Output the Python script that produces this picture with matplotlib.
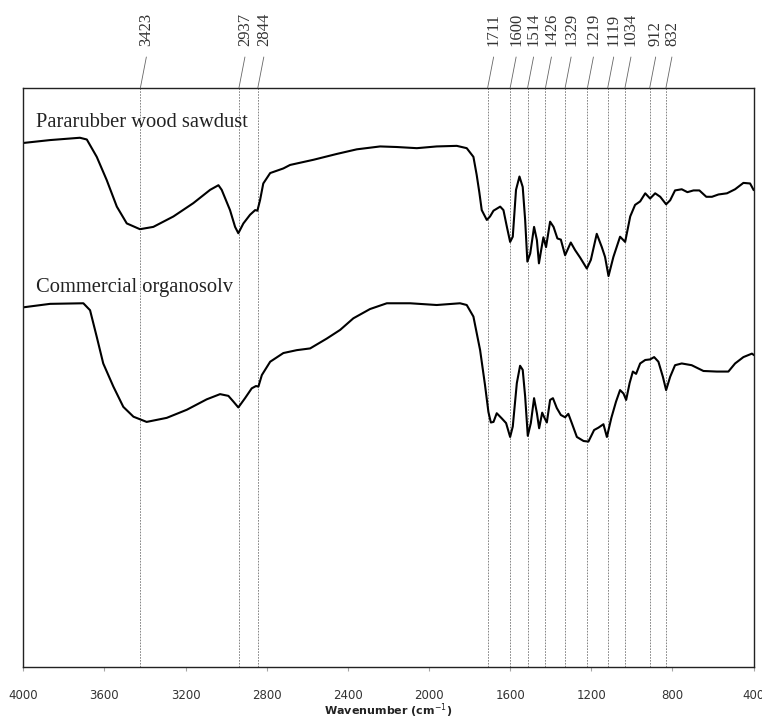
import matplotlib
matplotlib.use("Agg")
import matplotlib.pyplot as plt

# FTIR transmittance traces (arbitrary units, offset for display)
wn_sawdust = [4000, 3868, 3721, 3687, 3638, 3589, 3539, 3490, 3425, 3359,
              3260, 3162, 3079, 3038, 3022, 2981, 2956, 2940, 2915, 2882,
              2857, 2846, 2833, 2817, 2783, 2718, 2685, 2569, 2455, 2356,
              2241, 2159, 2060, 1962, 1863, 1814, 1781, 1765, 1752, 1740,
              1715, 1699, 1682, 1649, 1633, 1616, 1600, 1587, 1571, 1554,
              1538, 1526, 1515, 1501, 1482, 1468, 1458, 1447, 1436, 1423,
              1403, 1386, 1367, 1350, 1329, 1301, 1280, 1255, 1222, 1202,
              1173, 1148, 1132, 1115, 1091, 1058, 1033, 1008, 984, 959,
              934, 910, 885, 860, 831, 811, 787, 754, 726, 696,
              667, 633, 605, 573, 531, 491, 450, 417, 400]
t_sawdust = [90.5, 91.0, 91.4, 91.1, 88.1, 84.1, 79.5, 76.6, 75.6, 76.0,
             77.8, 80.1, 82.4, 83.2, 82.4, 78.9, 76.0, 74.9, 76.6, 78.1,
             78.9, 78.8, 80.6, 83.5, 85.3, 86.1, 86.7, 87.6, 88.6, 89.4,
             89.9, 89.8, 89.6, 89.9, 90.0, 89.6, 88.1, 85.0, 82.0, 78.9,
             77.2, 77.8, 78.8, 79.5, 78.9, 76.0, 73.4, 74.3, 82.4, 84.7,
             82.9, 77.2, 70.0, 71.4, 76.0, 73.7, 69.7, 72.0, 74.2, 72.5,
             76.9, 76.0, 74.0, 73.8, 71.1, 73.3, 72.0, 70.7, 68.8, 70.3,
             74.8, 72.5, 70.8, 67.5, 70.8, 74.3, 73.4, 77.8, 79.8, 80.4,
             81.8, 80.9, 81.8, 81.2, 79.9, 80.6, 82.3, 82.5, 82.0, 82.3,
             82.3, 81.2, 81.2, 81.6, 81.8, 82.5, 83.6, 83.5, 82.4]

wn_organosolv = [4000, 3868, 3704, 3671, 3638, 3606, 3556, 3507, 3457, 3392,
                 3293, 3194, 3096, 3030, 2989, 2964, 2940, 2907, 2874, 2853,
                 2841, 2824, 2783, 2718, 2652, 2586, 2504, 2438, 2373, 2291,
                 2208, 2093, 1962, 1847, 1814, 1781, 1748, 1724, 1707, 1695,
                 1682, 1666, 1641, 1620, 1600, 1587, 1567, 1551, 1538, 1526,
                 1513, 1498, 1482, 1468, 1457, 1442, 1432, 1419, 1403, 1389,
                 1370, 1350, 1329, 1313, 1296, 1271, 1238, 1214, 1186, 1165,
                 1140, 1123, 1101, 1078, 1058, 1041, 1028, 1011, 995, 979,
                 959, 934, 910, 890, 869, 847, 831, 811, 787, 754,
                 705, 647, 581, 524, 491, 450, 408, 400]
t_organosolv = [62.1, 62.7, 62.8, 61.6, 57.0, 52.4, 48.4, 44.9, 43.2, 42.3,
                43.0, 44.4, 46.2, 47.1, 46.8, 45.8, 44.8, 46.4, 48.1, 48.5,
                48.4, 50.4, 52.7, 54.2, 54.7, 55.0, 56.7, 58.2, 60.2, 61.8,
                62.8, 62.8, 62.5, 62.8, 62.5, 60.5, 54.7, 48.7, 44.0, 42.2,
                42.3, 43.8, 42.9, 42.1, 39.7, 41.5, 49.0, 52.0, 51.3, 46.7,
                39.9, 42.1, 46.4, 43.8, 41.2, 43.9, 43.1, 42.2, 46.1, 46.4,
                44.7, 43.5, 43.1, 43.7, 42.1, 39.7, 39.0, 38.9, 40.9, 41.3,
                41.9, 39.7, 43.0, 45.8, 47.8, 47.2, 46.1, 49.0, 51.0, 50.6,
                52.4, 53.0, 53.1, 53.5, 52.7, 50.1, 47.8, 50.1, 52.1, 52.4,
                52.1, 51.1, 51.0, 51.0, 52.4, 53.5, 54.1, 53.9]

peaks = [3423, 2937, 2844, 1711, 1600, 1514, 1426, 1329, 1219, 1119, 1034, 912, 832]
xticks = list(range(4000, 399, -400))

serif = ["Liberation Serif", "DejaVu Serif"]

fig = plt.figure(figsize=(7.62, 7.2), dpi=100)
ax = fig.add_axes([0.0306, 0.074, 0.9583, 0.8038])

ax.plot(wn_sawdust, t_sawdust, color="black", lw=1.5, solid_joinstyle="round")
ax.plot(wn_organosolv, t_organosolv, color="black", lw=1.5, solid_joinstyle="round")

ax.text(0.0174, 0.9395, "Pararubber wood sawdust", transform=ax.transAxes,
        family=serif, fontsize=14.8, ha="left", va="center", color="#222222")
ax.text(0.0174, 0.656, "Commercial organosolv", transform=ax.transAxes,
        family=serif, fontsize=14.8, ha="left", va="center", color="#222222")

# peak markers: dotted guide, slanted leader and rotated label above the box
for p in peaks:
    ax.axvline(p, color="0.45", lw=0.6, ls=(0, (2, 1.5)), zorder=0)
    ax.annotate("", xy=(p, 1), xycoords=("data", "axes fraction"),
                xytext=(6, 31), textcoords="offset pixels",
                arrowprops=dict(arrowstyle="-", color="0.4", lw=0.6,
                                shrinkA=0, shrinkB=0))
    ax.annotate(str(p), xy=(p, 1), xycoords=("data", "axes fraction"),
                xytext=(6, 42), textcoords="offset pixels", rotation=90,
                ha="center", va="bottom", family=serif, fontsize=12,
                color="#333333", annotation_clip=False)

ax.set_xlim(4000, 400)
ax.set_ylim(0, 100)
ax.set_xticks(xticks)
ax.set_xticklabels([str(v) for v in xticks])
ax.set_yticks([])
ax.tick_params(axis="x", direction="out", length=3, color="0.65",
               pad=12.8, labelsize=8.5, labelcolor="#333333")
for s in ax.spines.values():
    s.set_linewidth(1.0)
    s.set_color("#222222")

ax.set_xlabel("Wavenumber (cm$^{-1}$)", fontsize=8, fontweight="bold",
              labelpad=0, color="#222222")

fig.savefig("out.png", dpi=100)
